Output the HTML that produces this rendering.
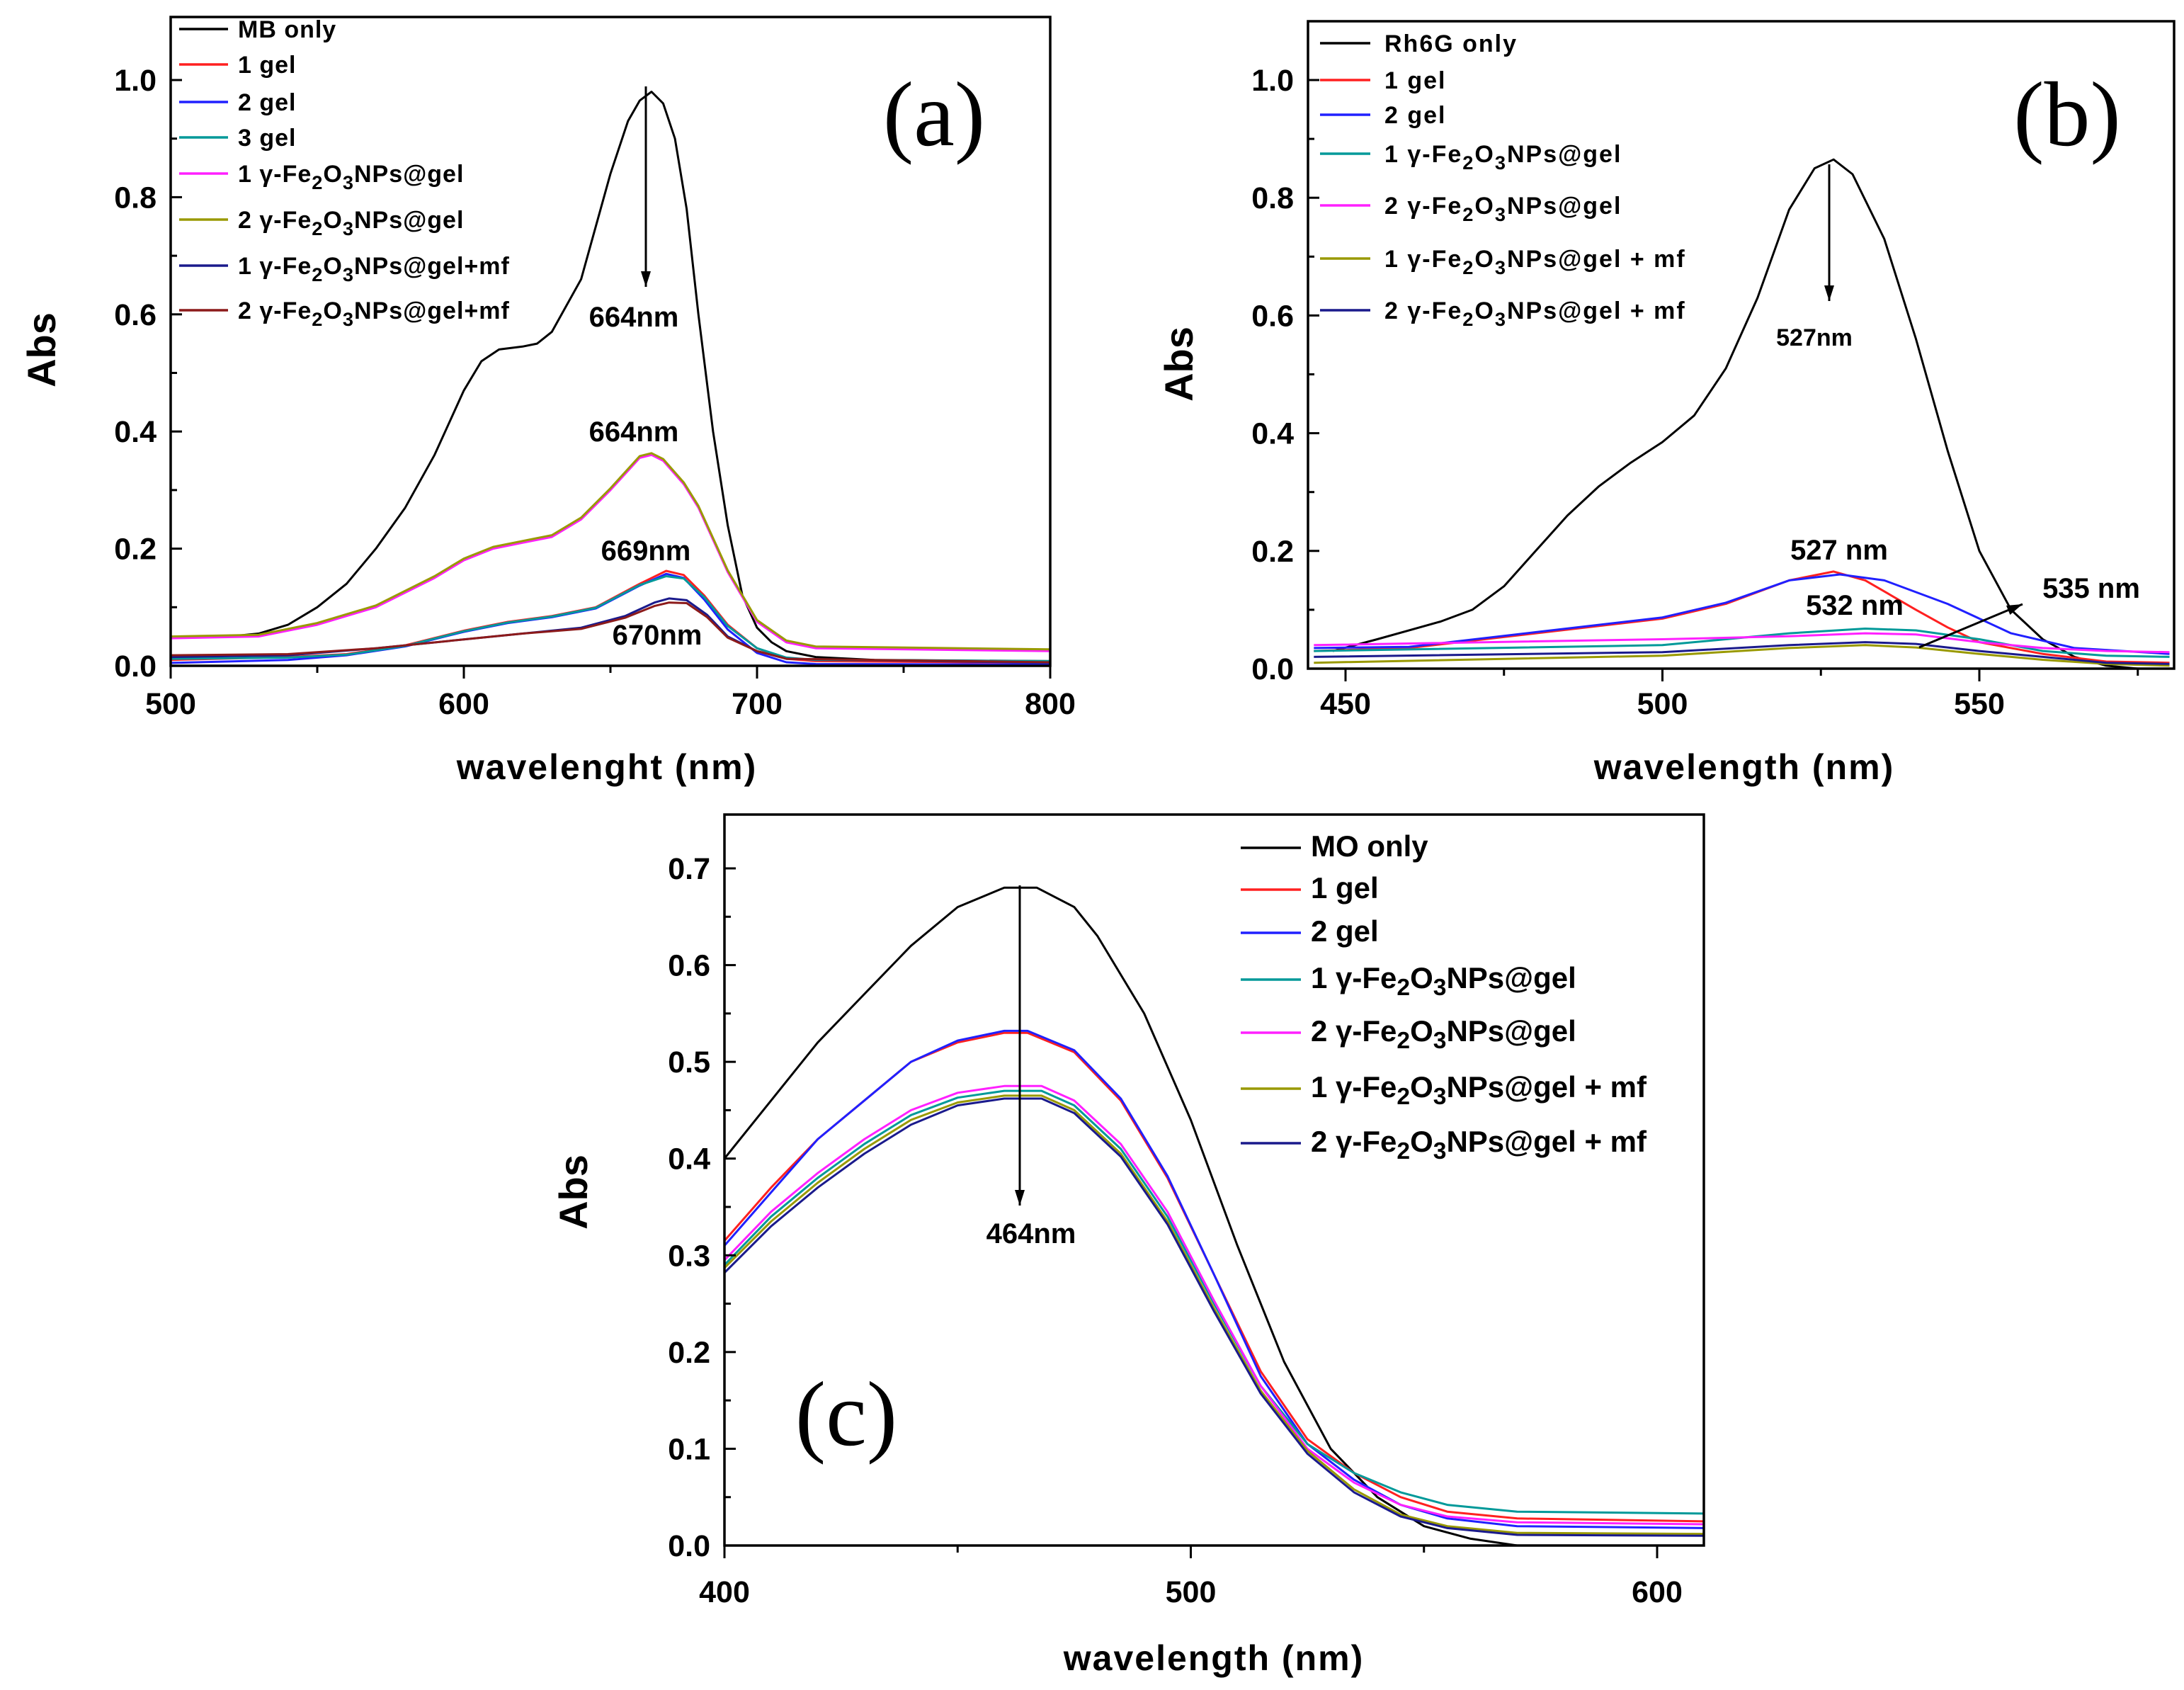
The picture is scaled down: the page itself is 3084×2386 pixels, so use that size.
<!DOCTYPE html>
<html><head><meta charset="utf-8"><style>
html,body{margin:0;padding:0;background:#fff;}
svg{display:block;font-family:"Liberation Sans",sans-serif;}
</style></head><body>
<svg id="fig" width="3084" height="2386" viewBox="0 0 3084 2386" xmlns="http://www.w3.org/2000/svg"></svg>
<script>
// ---------- Panel (a) data ----------
const aMBx=[520,530,540,550,560,570,580,590,600,606,612,620,625,630,640,650,656,660,664,668,672,676,680,685,690,695,700,705,710,720,740,800];
const aMBy=[0.05,0.055,0.07,0.1,0.14,0.2,0.27,0.36,0.47,0.52,0.54,0.545,0.55,0.57,0.66,0.84,0.93,0.965,0.98,0.96,0.9,0.78,0.6,0.4,0.24,0.12,0.065,0.04,0.025,0.015,0.01,0.008];
const aGx=[500,530,550,570,590,600,610,620,630,640,650,660,664,668,675,680,690,700,710,720,800];
const aG1y=[0.047,0.05,0.07,0.1,0.15,0.18,0.2,0.21,0.22,0.25,0.3,0.355,0.36,0.35,0.31,0.27,0.16,0.075,0.04,0.03,0.025];
const aG2y=[0.05,0.053,0.073,0.103,0.153,0.183,0.203,0.213,0.223,0.253,0.303,0.358,0.363,0.353,0.313,0.273,0.163,0.078,0.043,0.033,0.028];
const aGelx=[500,540,560,580,600,615,630,645,660,669,675,682,690,700,710,720,800];
const aGel1y=[0.01,0.015,0.02,0.035,0.06,0.075,0.085,0.1,0.14,0.162,0.155,0.12,0.07,0.03,0.012,0.008,0.005];
const aGel2y=[0.005,0.01,0.018,0.033,0.058,0.073,0.083,0.098,0.137,0.157,0.15,0.113,0.062,0.022,0.006,0.003,0.002];
const aGel3y=[0.012,0.014,0.019,0.034,0.059,0.074,0.084,0.099,0.138,0.153,0.149,0.117,0.068,0.03,0.014,0.01,0.008];
const aMfx=[500,540,570,600,620,640,655,665,670,676,683,690,700,710,800];
const aMf1y=[0.015,0.018,0.03,0.045,0.055,0.065,0.085,0.108,0.115,0.112,0.087,0.05,0.025,0.012,0.005];
const aMf2y=[0.018,0.02,0.03,0.045,0.055,0.063,0.082,0.102,0.108,0.107,0.083,0.048,0.025,0.012,0.006];
// ---------- Panel (b) data ----------
const bRhx=[448,455,465,470,475,480,485,490,495,500,505,510,515,520,524,527,530,535,540,545,550,555,560,565,570,575,580];
const bRhy=[0.03,0.05,0.08,0.1,0.14,0.2,0.26,0.31,0.35,0.385,0.43,0.51,0.63,0.78,0.85,0.865,0.84,0.73,0.56,0.37,0.2,0.1,0.05,0.02,0.005,0,0];
const bG1x=[445,460,480,500,510,520,527,532,540,545,550,560,570,580];
const bG1y=[0.03,0.035,0.06,0.085,0.11,0.15,0.165,0.15,0.1,0.07,0.045,0.025,0.012,0.01];
const bG2x=[445,460,480,500,510,520,528,535,545,555,565,580];
const bG2y=[0.035,0.037,0.062,0.087,0.112,0.15,0.16,0.15,0.11,0.06,0.035,0.025];
const bLx=[445,500,520,532,540,550,560,570,580];
const bF1y=[0.03,0.04,0.06,0.068,0.065,0.05,0.03,0.022,0.02];
const bF2y=[0.04,0.05,0.055,0.06,0.058,0.045,0.035,0.03,0.028];
const bM1y=[0.01,0.022,0.035,0.04,0.036,0.025,0.015,0.008,0.005];
const bM2y=[0.02,0.028,0.04,0.045,0.042,0.03,0.02,0.01,0.008];
// ---------- Panel (c) data ----------
const cMOx=[400,410,420,430,440,450,460,467,475,480,490,500,510,520,530,540,550,560,570,576];
const cMOy=[0.4,0.46,0.52,0.57,0.62,0.66,0.68,0.68,0.66,0.63,0.55,0.44,0.31,0.19,0.1,0.05,0.02,0.007,0,0];
const cGelx=[400,410,420,430,440,450,460,465,475,485,495,505,515,525,535,545,555,570,610];
const cGel1y=[0.315,0.37,0.42,0.46,0.5,0.52,0.53,0.53,0.51,0.46,0.38,0.28,0.18,0.11,0.075,0.05,0.035,0.028,0.025];
const cGel2y=[0.31,0.365,0.42,0.46,0.5,0.522,0.532,0.532,0.512,0.462,0.382,0.28,0.175,0.105,0.068,0.042,0.028,0.02,0.018];
const cFx=[400,410,420,430,440,450,460,468,475,485,495,505,515,525,535,545,555,570,610];
const cF1y=[0.29,0.34,0.38,0.415,0.445,0.463,0.47,0.47,0.455,0.41,0.34,0.25,0.165,0.105,0.075,0.055,0.042,0.035,0.033];
const cF2y=[0.295,0.345,0.385,0.42,0.45,0.468,0.475,0.475,0.46,0.415,0.345,0.253,0.165,0.1,0.065,0.042,0.03,0.024,0.022];
const cM1y=[0.287,0.335,0.375,0.41,0.44,0.458,0.465,0.465,0.45,0.405,0.335,0.245,0.16,0.098,0.058,0.032,0.02,0.013,0.012];
const cM2y=[0.282,0.33,0.37,0.405,0.435,0.455,0.462,0.462,0.447,0.402,0.332,0.242,0.157,0.095,0.055,0.03,0.018,0.011,0.01];

const NS="http://www.w3.org/2000/svg";
const svg=document.getElementById('fig');
function mk(tag,attrs,parent){const e=document.createElementNS(NS,tag);for(const k in attrs)e.setAttribute(k,attrs[k]);(parent||svg).appendChild(e);return e;}

function panel(P){
  const g=mk('g',{});
  
  
  const sx=v=>P.x0+(v-P.xmin)/(P.xmax-P.xmin)*(P.x1-P.x0);
  const sy=v=>P.y0+(v-P.ymin)/(P.ymax-P.ymin)*(P.y1-P.y0);
  const clip=mk('clipPath',{id:P.name+'-clip'},g);
  mk('rect',{x:P.left,y:P.top,width:P.right-P.left,height:P.y0-P.top},clip);
  P.series.forEach(s=>{
    let d='';
    s.x.forEach((xv,i)=>{d+=(i?'L':'M')+sx(xv).toFixed(1)+','+sy(s.y[i]).toFixed(1);});
    const p=mk('path',{d:d,fill:'none',stroke:s.c,'stroke-width':3,'stroke-linejoin':'round','clip-path':'url(#'+P.name+'-clip)'},g);
    
    
  });
  const fr=mk('rect',{x:P.left,y:P.top,width:P.right-P.left,height:P.y0-P.top,fill:'none',stroke:'#000','stroke-width':3.5},g);
  
  
  P.yt.forEach((t,i)=>{
    const y=sy(t);
    mk('line',{x1:P.left,x2:P.left+16,y1:y,y2:y,stroke:'#000','stroke-width':3},g);
    const tx=mk('text',{x:P.left-20,y:y+15,'text-anchor':'end','font-size':43,'font-weight':'bold'},g);
    tx.textContent=P.ytl[i];
    
    
  });
  P.ym.forEach(t=>{const y=sy(t);mk('line',{x1:P.left,x2:P.left+9,y1:y,y2:y,stroke:'#000','stroke-width':3},g);});
  P.xt.forEach((t,i)=>{
    const x=sx(t);
    mk('line',{x1:x,x2:x,y1:P.y0,y2:P.y0+18,stroke:'#000','stroke-width':3},g);
    const tx=mk('text',{x:x,y:P.xly,'text-anchor':'middle','font-size':43,'font-weight':'bold'},g);
    tx.textContent=P.xtl[i];
    
    
  });
  P.xm.forEach(t=>{const x=sx(t);mk('line',{x1:x,x2:x,y1:P.y0,y2:P.y0+10,stroke:'#000','stroke-width':3},g);});
  const xt=mk('text',{x:P.xtx,y:P.xty,'text-anchor':'middle','font-size':50,'font-weight':'bold','letter-spacing':2},g);
  xt.textContent=P.xtitle;
  
  
  const yt=mk('text',{x:0,y:0,'text-anchor':'middle','font-size':56,'font-weight':'bold',transform:'translate('+(P.ytx+19)+','+P.yty+') rotate(-90)'},g);
  yt.textContent='Abs';
  
  
  P.legY.forEach((ly,i)=>{
    const s=P.series[P.legOrder[i]];
    const lg=mk('g',{},g);
    
    
    mk('line',{x1:P.legX0,x2:P.legX1,y1:ly,y2:ly,stroke:s.c,'stroke-width':3.5},lg);
    const t=mk('text',{x:P.legTx,y:ly+12,'font-size':P.legFs,'font-weight':'bold','letter-spacing':P.legLs},lg);
    t.innerHTML=P.legLabels[i];
  });
  const L=mk('text',{x:P.letX,y:P.letY,'text-anchor':'middle','font-size':130,'font-family':'"Liberation Serif",serif'},g);
  L.textContent=P.letter;
  
  
  return g;
}
const feSub=(pre,post)=>pre+'γ-Fe<tspan dy="10" font-size="0.8em">2</tspan><tspan dy="-10">O</tspan><tspan dy="10" font-size="0.8em">3</tspan><tspan dy="-10">NPs@gel'+post+'</tspan>';

function arrow(g,x1,y1,x2,y2,name){
  const a=mk('g',{},g);
  
  
  mk('line',{x1:x1,y1:y1,x2:x2,y2:y2,stroke:'#000','stroke-width':3},a);
  const ang=Math.atan2(y2-y1,x2-x1),L=22,W=7;
  const bx=x2-L*Math.cos(ang),by=y2-L*Math.sin(ang);
  const px=-Math.sin(ang)*W,py=Math.cos(ang)*W;
  mk('polygon',{points:`${x2},${y2} ${bx+px},${by+py} ${bx-px},${by-py}`,fill:'#000'},a);
}
function label(g,x,y,txt,fs){const t=mk('text',{x:x,y:y,'text-anchor':'middle','font-size':fs||40,'font-weight':'bold'},g);t.textContent=txt;}

const ga=panel({name:'panel-a',xmin:500,xmax:800,x0:241,x1:1483,ymin:0,ymax:1,y0:940,y1:113,left:241,right:1483,top:24,
 series:[{x:aMBx,y:aMBy,c:'#000',n:'series-mb-only'},{x:aGelx,y:aGel1y,c:'#ff2020',n:'series-1-gel'},{x:aGelx,y:aGel2y,c:'#2020ff',n:'series-2-gel'},{x:aGelx,y:aGel3y,c:'#009999',n:'series-3-gel'},{x:aGx,y:aG1y,c:'#ff20ff',n:'series-1-fe2o3-gel'},{x:aGx,y:aG2y,c:'#999900',n:'series-2-fe2o3-gel'},{x:aMfx,y:aMf1y,c:'#1a1a8c',n:'series-1-fe2o3-gel-mf'},{x:aMfx,y:aMf2y,c:'#8c1a1a',n:'series-2-fe2o3-gel-mf'}],
 yt:[0,0.2,0.4,0.6,0.8,1.0],ytl:['0.0','0.2','0.4','0.6','0.8','1.0'],ym:[0.1,0.3,0.5,0.7,0.9],
 xt:[500,600,700,800],xtl:['500','600','700','800'],xm:[550,650,750],xly:1008,
 xtitle:'wavelenght (nm)',xtx:857,xty:1100,ytx:59,yty:494,
 legX0:253,legX1:322,legTx:336,legFs:34,legLs:1,legY:[41,91,144,194,245,310,375,438],legOrder:[0,1,2,3,4,5,6,7],
 legLabels:['MB only','1 gel','2 gel','3 gel',feSub('1 ',''),feSub('2 ',''),feSub('1 ','+mf'),feSub('2 ','+mf')],
 letter:'(a)',letX:1319,letY:205});
arrow(ga,912,122,912,405,'peak-arrow');
label(ga,895,461,'664nm');label(ga,895,623,'664nm');label(ga,912,791,'669nm');label(ga,928,910,'670nm');

const gb=panel({name:'panel-b',xmin:450,xmax:550,x0:1900,x1:2795,ymin:0,ymax:1,y0:944,y1:113,left:1847,right:3070,top:30,
 series:[{x:bRhx,y:bRhy,c:'#000',n:'series-rh6g-only'},{x:bG1x,y:bG1y,c:'#ff2020',n:'series-1-gel'},{x:bG2x,y:bG2y,c:'#2020ff',n:'series-2-gel'},{x:bLx,y:bF1y,c:'#009999',n:'series-1-fe2o3-gel'},{x:bLx,y:bF2y,c:'#ff20ff',n:'series-2-fe2o3-gel'},{x:bLx,y:bM1y,c:'#999900',n:'series-1-fe2o3-gel-mf'},{x:bLx,y:bM2y,c:'#1a1a8c',n:'series-2-fe2o3-gel-mf'}],
 yt:[0,0.2,0.4,0.6,0.8,1.0],ytl:['0.0','0.2','0.4','0.6','0.8','1.0'],ym:[0.1,0.3,0.5,0.7,0.9],
 xt:[450,500,550],xtl:['450','500','550'],xm:[475,525,575],xly:1008,
 xtitle:'wavelength (nm)',xtx:2463,xty:1100,ytx:1665,yty:514,
 legX0:1864,legX1:1935,legTx:1955,legFs:34,legLs:2,legY:[61,113,162,217,290,365,438],legOrder:[0,1,2,3,4,5,6],
 legLabels:['Rh6G only','1 gel','2 gel',feSub('1 ',''),feSub('2  ',''),feSub('1 ',' + mf'),feSub('2  ',' + mf')],
 letter:'(b)',letX:2919,letY:205});
arrow(gb,2583,232,2583,425,'peak-arrow');
label(gb,2562,488,'527nm',34);label(gb,2597,790,'527 nm');label(gb,2619,868,'532 nm');label(gb,2953,844,'535 nm');
arrow(gb,2710,914,2856,853,'annotation-arrow');

const gc=panel({name:'panel-c',xmin:400,xmax:600,x0:1023,x1:2340,ymin:0,ymax:0.7,y0:2182,y1:1226,left:1023,right:2406,top:1150,
 series:[{x:cMOx,y:cMOy,c:'#000',n:'series-mo-only'},{x:cGelx,y:cGel1y,c:'#ff2020',n:'series-1-gel'},{x:cGelx,y:cGel2y,c:'#2020ff',n:'series-2-gel'},{x:cFx,y:cF1y,c:'#009999',n:'series-1-fe2o3-gel'},{x:cFx,y:cF2y,c:'#ff20ff',n:'series-2-fe2o3-gel'},{x:cFx,y:cM1y,c:'#999900',n:'series-1-fe2o3-gel-mf'},{x:cFx,y:cM2y,c:'#1a1a8c',n:'series-2-fe2o3-gel-mf'}],
 yt:[0,0.1,0.2,0.3,0.4,0.5,0.6,0.7],ytl:['0.0','0.1','0.2','0.3','0.4','0.5','0.6','0.7'],ym:[0.05,0.15,0.25,0.35,0.45,0.55,0.65],
 xt:[400,500,600],xtl:['400','500','600'],xm:[450,550],xly:2262,
 xtitle:'wavelength (nm)',xtx:1714,xty:2358,ytx:810,yty:1683,
 legX0:1752,legX1:1837,legTx:1851,legFs:42,legLs:0,legY:[1197,1256,1317,1383,1458,1537,1614],legOrder:[0,1,2,3,4,5,6],
 legLabels:['MO only','1 gel','2 gel',feSub('1 ',''),feSub('2 ',''),feSub('1 ',' + mf'),feSub('2 ',' + mf')],
 letter:'(c)',letX:1195,letY:2040});
arrow(gc,1440,1250,1440,1702,'peak-arrow');
label(gc,1456,1755,'464nm');
</script>
</body></html>
